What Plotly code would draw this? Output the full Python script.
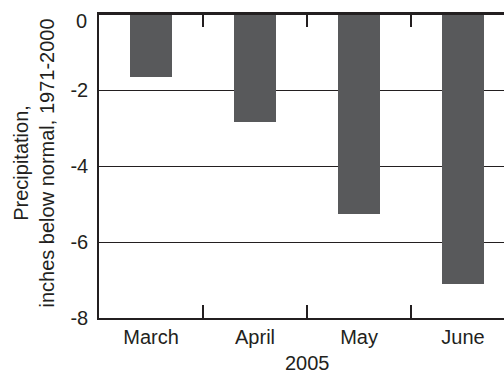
import plotly.graph_objects as go

months = ["March", "April", "May", "June"]
precip_below_normal = [-1.65, -2.83, -5.25, -7.10]
y_ticks = [0, -2, -4, -6, -8]
year_label = "2005"
y_title = "Precipitation,<br>inches below normal, 1971-2000"

INK = "#231f20"
BAR = "#58595b"
FONT = "Liberation Sans, Arial, sans-serif"

fig = go.Figure()
fig.add_trace(go.Bar(
    x=months, y=precip_below_normal,
    marker=dict(color=BAR, line=dict(width=0)),
    width=0.41,
))

fig.update_layout(
    width=504, height=373,
    margin=dict(l=99, r=0, t=14, b=55, autoexpand=False),
    paper_bgcolor="white", plot_bgcolor="white",
    showlegend=False,
    font=dict(family=FONT, size=20, color=INK),
    bargap=0,
)
fig.update_xaxes(
    type="category", automargin=False,
    range=[-0.5, 3.394],
    tickson="boundaries",
    ticks="inside", ticklen=13, tickwidth=1.5, tickcolor=INK,
    showline=True, linecolor=INK, linewidth=1.5, mirror="ticks",
    showgrid=False,
    tickfont=dict(family=FONT, size=20, color=INK),
)
# Y tick labels: "0" sits a bit lower than its gridline in the reference,
# so it is drawn as an annotation; the rest are regular tick labels.
fig.update_yaxes(
    automargin=False,
    range=[-8, 0],
    tickvals=y_ticks[1:], ticktext=[str(v) for v in y_ticks[1:]],
    ticks="", showgrid=True, gridcolor=INK, gridwidth=1,
    showline=True, linecolor=INK, linewidth=1.5,
    zeroline=False, ticklabelstandoff=5, ticklabeloverflow="allow",
    tickfont=dict(family=FONT, size=20, color=INK),
)
fig.add_annotation(
    text=str(y_ticks[0]), xref="paper", yref="y", x=0, y=y_ticks[0],
    xanchor="right", yanchor="middle", xshift=-10, yshift=-7,
    showarrow=False, font=dict(family=FONT, size=20, color=INK),
)
fig.add_shape(
    type="line", xref="paper", yref="paper", x0=0, x1=1, y0=1, y1=1,
    line=dict(color=INK, width=2), layer="above",
)
fig.add_annotation(
    text=y_title, xref="paper", yref="paper",
    x=(33.5 - 99) / 405, y=(318 - 163) / 304,
    xanchor="center", yanchor="middle", textangle=-90,
    showarrow=False, font=dict(family=FONT, size=20, color=INK),
)
fig.add_annotation(
    text=year_label, xref="paper", yref="paper",
    x=(307 - 99) / 405, y=(318 - 363) / 304,
    xanchor="center", yanchor="middle",
    showarrow=False, font=dict(family=FONT, size=20, color=INK),
)

fig.write_html(
    "out.html",
    config={"displayModeBar": False},
    post_script="document.body.style.margin='0';document.body.style.overflow='hidden';",
)
